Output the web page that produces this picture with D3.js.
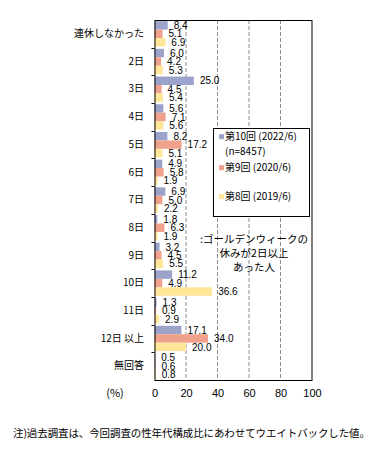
<!DOCTYPE html>
<html><head><meta charset="utf-8">
<script src="https://cdn.jsdelivr.net/npm/d3@7"></script>
<style>
body{margin:0;background:#fff;}
svg{display:block;font-family:"Noto Sans CJK JP","Noto Sans",sans-serif;}
</style></head>
<body>
<svg id="c" width="379" height="459"></svg>
<script>
const categories = ["連休しなかった","2日","3日","4日","5日","6日","7日","8日","9日","10日","11日","12日 以上","無回答"];
const s10 = [8.4,6.0,25.0,5.6,8.2,4.9,6.9,1.8,3.2,11.2,1.3,17.1,0.5];
const s9  = [5.1,4.2,4.5,7.1,17.2,5.8,5.0,6.3,4.5,4.9,0.9,34.0,0.6];
const s8  = [6.9,5.3,5.4,5.6,5.1,1.9,2.2,1.9,5.5,36.6,2.9,20.0,0.8];
const seriesNames = ["第10回 (2022/6)","第9回 (2020/6)","第8回 (2019/6)"];
const seriesColors = ["#9ca3cb","#f0a18b","#ffe699"];
const xTicks = [0,20,40,60,80,100];
const noteLines = [":ゴールデンウィークの","休みが2日以上","あった人"];
const footnote = "注)過去調査は、今回調査の性年代構成比にあわせてウエイトバックした値。";

const series = [s10, s9, s8];
const svg = d3.select("#c");
const L = 154.5, R = 312, T = 20, B = 380;
const x = d3.scaleLinear().domain([0,100]).range([L,R]);
const y = d3.scaleBand().domain(categories).range([T,B]).paddingInner(0).paddingOuter(0);
const inner = d3.scaleBand().domain([0,1,2]).range([0,y.bandwidth()]).paddingOuter(0.14).paddingInner(0);

// gridlines
svg.append("g").selectAll("line").data(xTicks.filter(t=>t>0&&t<100)).join("line")
  .attr("x1",d=>x(d)).attr("x2",d=>x(d)).attr("y1",T).attr("y2",B)
  .attr("stroke","#8c8c8c").attr("stroke-width",1).attr("stroke-dasharray","4,2");

// bars
const gBars = svg.append("g");
series.forEach((s,si)=>{
  gBars.selectAll(null).data(s).join("rect")
    .attr("x",x(0))
    .attr("y",(d,i)=>y(categories[i])+inner(si))
    .attr("width",d=>x(d)-x(0))
    .attr("height",inner.bandwidth())
    .attr("fill",seriesColors[si]);
});

// frame
svg.append("rect").attr("x",L+0.5).attr("y",T+0.5).attr("width",R-L-0.5).attr("height",B-T)
  .attr("fill","none").attr("stroke","#000").attr("stroke-width",1);

// y axis labels
const yAxis = d3.axisLeft(y).tickSize(0).tickPadding(11);
const gy = svg.append("g").attr("transform",`translate(${L+0.5},0)`).call(yAxis);
gy.select(".domain").remove();
gy.selectAll("text").attr("font-size","10px").attr("fill","#000")
  .attr("font-family",'"Noto Sans CJK JP",sans-serif');
// band boundary ticks
svg.append("g").selectAll("line").data(categories.slice(1)).join("line")
  .attr("x1",L-3).attr("x2",L).attr("y1",d=>Math.round(y(d))+0.5).attr("y2",d=>Math.round(y(d))+0.5)
  .attr("stroke","#000");

// x axis labels
const xAxis = d3.axisBottom(x).tickValues(xTicks).tickSize(0).tickPadding(9).tickFormat(d3.format("d"));
const gx = svg.append("g").attr("transform",`translate(0,${B})`).call(xAxis);
gx.select(".domain").remove();
gx.selectAll("text").attr("font-size","11px").attr("fill","#000");
svg.append("text").attr("x",115).attr("y",397).attr("text-anchor","middle")
  .attr("font-size","11px").text("(%)");

// value labels
const gLab = svg.append("g");
series.forEach((s,si)=>{
  gLab.selectAll(null).data(s).join("text")
    .attr("x",d=>x(d)+6)
    .attr("y",(d,i)=>y(categories[i])+inner(si)+inner.bandwidth()/2)
    .attr("dy","0.36em")
    .attr("font-size","10px")
    .attr("font-family",'"Liberation Sans",Arial,sans-serif')
    .attr("fill","#000")
    .text(d=>d.toFixed(1));
});

// legend
const lg = svg.append("g");
lg.append("rect").attr("x",213.5).attr("y",128.5).attr("width",96).attr("height",88)
  .attr("fill","#fff").attr("stroke","#000");
const legY = [136.7,167.7,196.7];
seriesNames.forEach((n,i)=>{
  lg.append("rect").attr("x",219).attr("y",legY[i]-2.5).attr("width",5).attr("height",5).attr("fill",seriesColors[i]);
  lg.append("text").attr("x",225).attr("y",legY[i]).attr("dy","0.36em").attr("font-size","10px").text(n);
});
lg.append("text").attr("x",225).attr("y",151.7).attr("dy","0.36em").attr("font-size","10px").text("(n=8457)");

// note
noteLines.forEach((t,i)=>{
  svg.append("text").attr("x",254).attr("y",239+i*14).attr("dy","0.36em")
    .attr("text-anchor","middle").attr("font-size","10.5px").text(t);
});

// footnote
svg.append("text").attr("x",13).attr("y",437).attr("font-size","10.5px")
  .attr("textLength",357).attr("lengthAdjust","spacing").text(footnote);
</script>
</body></html>
